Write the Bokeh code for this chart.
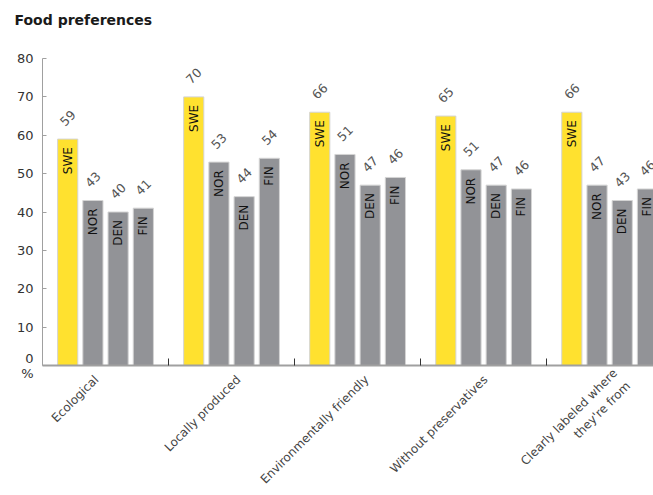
import math
from bokeh.plotting import figure
from bokeh.models import ColumnDataSource, Range1d, FixedTicker, LabelSet, Title
from bokeh.core.properties import value
from bokeh.embed import file_html
from bokeh.resources import INLINE

# ---- data ----
categories = ["Ecological", "Locally produced", "Environmentally friendly",
              "Without preservatives", "Clearly labeled where\nthey're from"]
countries = ["SWE", "NOR", "DEN", "FIN"]
# bar heights as drawn
swe = [59, 70, 66, 65, 66]
nor = [43, 53, 55, 51, 47]
den = [40, 44, 47, 47, 43]
fin = [41, 54, 49, 46, 46]
# numbers printed above the bars
swe_txt = [59, 70, 66, 65, 66]
nor_txt = [43, 53, 51, 51, 47]
den_txt = [40, 44, 47, 47, 43]
fin_txt = [41, 54, 46, 46, 46]
y_ticks = [0, 10, 20, 30, 40, 50, 60, 70, 80]

# ---- style ----
YELLOW = "#FFE12F"
GRAY = "#929397"
FONT = "DejaVu Sans"
PX_PER_GROUP = 126.0
label_nudge_px = [-9, 7, 9, 2, 12]   # horizontal placement of category labels

series = [swe, nor, den, fin]
series_txt = [swe_txt, nor_txt, den_txt, fin_txt]

xs, tops, cols, names, nums = [], [], [], [], []
for gi in range(len(categories)):
    for ci, c in enumerate(countries):
        xs.append(gi + 0.2 * (ci + 1))
        tops.append(series[ci][gi])
        cols.append(YELLOW if c == "SWE" else GRAY)
        names.append(c)
        nums.append(str(series_txt[ci][gi]))

src = ColumnDataSource(dict(x=xs, top=tops, color=cols, name=names, num=nums))

p = figure(width=653, height=495, output_backend="svg", toolbar_location=None,
           x_range=Range1d(0, 4.848), y_range=Range1d(0, 80),
           min_border_left=42, min_border_right=0, min_border_top=58,
           min_border_bottom=130)
p.outline_line_color = None
p.grid.visible = False
p.background_fill_color = "white"

# title (with a spacer between it and the plot area)
p.add_layout(Title(text=" ", text_font_size="10px", standoff=13), "above")
p.add_layout(Title(text="Food preferences", align="left", offset=-28,
                   text_font=FONT, text_font_size="14px", text_font_style="bold",
                   text_color="#1a1a1a", standoff=10), "above")

p.vbar(x="x", top="top", width=0.16, bottom=0, source=src,
       fill_color="color", line_color="#d4d4d4", line_width=1)

# labels inside bars
p.add_layout(LabelSet(x="x", y="top", text="name", source=src, angle=math.pi / 2,
                      text_align="right", text_baseline="middle", y_offset=-8,
                      text_font=value(FONT), text_font_size="12px",
                      text_color="#111111"))
# value labels above bars
p.add_layout(LabelSet(x="x", y="top", text="num", source=src, angle=math.pi / 4,
                      text_align="center", text_baseline="middle", y_offset=21,
                      text_font=value(FONT), text_font_size="12.5px",
                      text_color="#555555"))

# x axis: category names, separator ticks between groups
cat_ticks = [i + 0.5 + label_nudge_px[i] / PX_PER_GROUP for i in range(len(categories))]
xa = p.xaxis[0]
xa.ticker = FixedTicker(ticks=cat_ticks, minor_ticks=[1, 2, 3, 4])
xa.major_label_overrides = {t: c for t, c in zip(cat_ticks, categories)}
xa.major_label_orientation = math.pi / 4
xa.major_tick_line_color = None
xa.minor_tick_in = 7
xa.minor_tick_out = 0
xa.minor_tick_line_color = "#333333"
xa.axis_line_color = "#a0a0a0"
xa.axis_line_width = 2
xa.major_label_standoff = 6
xa.major_label_text_font = FONT
xa.major_label_text_font_size = "12px"
xa.major_label_text_color = "#444444"
xa.major_label_text_line_height = 1.3

ya = p.yaxis[0]
ya.ticker = FixedTicker(ticks=y_ticks)
ya.major_label_overrides = {0: "0\n%"}
ya.major_tick_in = 4
ya.major_tick_out = 0
ya.major_tick_line_color = "#a0a0a0"
ya.minor_tick_line_color = None
ya.axis_line_color = "#a0a0a0"
ya.major_label_standoff = 9
ya.major_label_text_font = FONT
ya.major_label_text_font_size = "13px"
ya.major_label_text_color = "#333333"
ya.major_label_text_line_height = 1.0

open("out.html", "w").write(file_html(p, INLINE))
